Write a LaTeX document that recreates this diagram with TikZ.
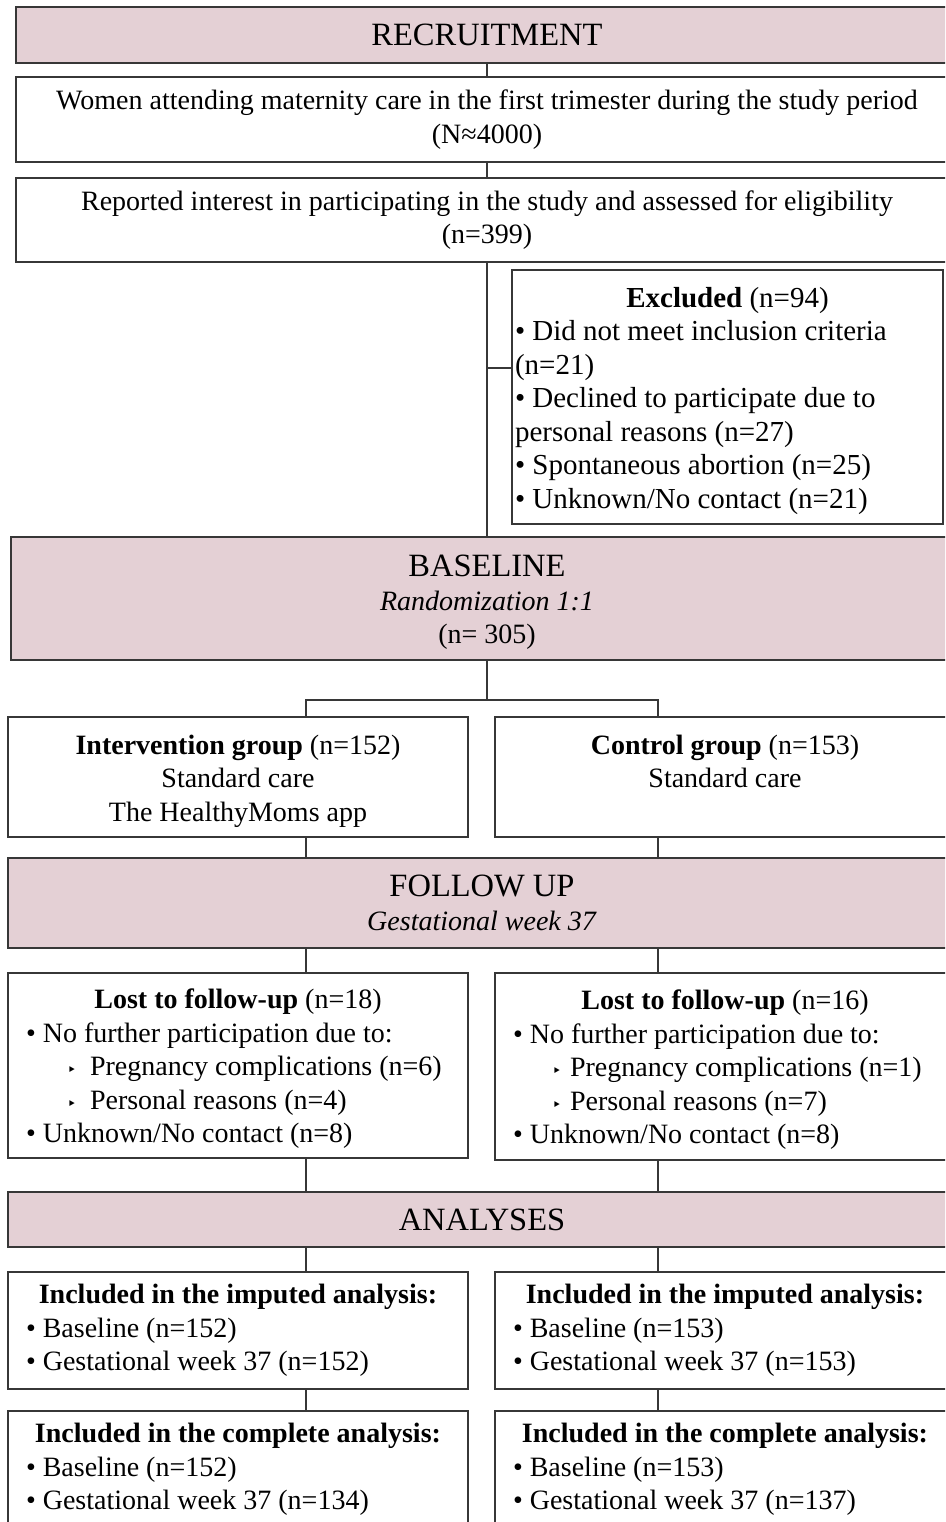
\documentclass[tikz,border=0pt]{standalone}
\usepackage{fontspec}
\setmainfont{Liberation Serif}
\newfontfamily\dejavu{DejaVu Sans}
\usetikzlibrary{positioning}

\definecolor{stagepink}{RGB}{228,208,213}
\definecolor{edgegray}{RGB}{55,55,55}
\newcommand{\tri}{{\dejavu\fontsize{16}{16}\selectfont ‣}}
\newcommand{\ctitle}[1]{\hspace*{\fill}#1\hspace*{\fill}\null}
\newcommand{\stagefont}{\fontsize{32.5}{33.5}\selectfont}

\begin{document}
\begin{tikzpicture}[
    font=\fontsize{28}{33.5}\selectfont,
    node distance=16pt,
    stage/.style={rectangle, draw=edgegray, line width=1.8pt, fill=stagepink, outer sep=0pt, inner sep=2pt, minimum width=942pt, align=center},
    infobox/.style={rectangle, draw=edgegray, line width=1.8pt, fill=white, outer sep=0pt, inner sep=2pt, minimum width=942pt, align=center},
    groupbox/.style={rectangle, draw=edgegray, line width=1.8pt, fill=white, outer sep=0pt, inner sep=2pt, minimum width=460pt, minimum height=120pt, align=center},
    listbox/.style={rectangle, draw=edgegray, line width=1.8pt, fill=white, outer sep=0pt, inner xsep=18pt, inner ysep=2pt, text width=424pt, align=flush left},
    link/.style={draw=edgegray, line width=1.3pt},
  ]
  \useasboundingbox (0pt,0pt) rectangle (945pt,-1522pt);
  \clip (0pt,0pt) rectangle (945pt,-1522pt);

  % recruitment
  \node[stage, minimum height=56pt, anchor=north west] (recruit) at (16pt,-7pt) {\stagefont RECRUITMENT};
  \node[infobox, minimum height=85pt, below=14pt of recruit] (women) {Women attending maternity care in the first trimester during the study period\\(N≈4000)};
  \node[infobox, minimum height=84pt, below=16pt of women] (report) {Reported interest in participating in the study and assessed for eligibility\\(n=399)};
  \node[listbox, font=\fontsize{29}{33.5}\selectfont, inner xsep=3pt, text width=425pt, minimum height=254pt, anchor=north west] (excl) at (512pt,-270pt) {\ctitle{\rule{0pt}{28pt}\textbf{Excluded} (n=94)}\\
    • Did not meet inclusion criteria\\
    (n=21)\\
    • Declined to participate due to\\
    personal reasons (n=27)\\
    • Spontaneous abortion (n=25)\\
    • Unknown/No contact (n=21)};

  % baseline
  \node[stage, minimum width=952pt, minimum height=123pt, anchor=north west] (base) at (11pt,-537pt) {\rule{0pt}{29.5pt}{\stagefont BASELINE}\\\textit{Randomization 1:1}\\(n= 305)};
  \node[groupbox, anchor=north west] (intv) at (8pt,-717pt) {\rule{0pt}{27.5pt}\textbf{Intervention group} (n=152)\\Standard care\\The HealthyMoms app};
  \node[groupbox, right=27pt of intv] (ctrl) {\rule{0pt}{27.5pt}\textbf{Control group} (n=153)\\Standard care\\\rule[-6pt]{0pt}{0pt}};

  % follow up
  \node[stage, minimum width=948pt, minimum height=90pt, anchor=north west] (follow) at (8pt,-858pt) {{\stagefont FOLLOW UP}\\\textit{Gestational week 37}};
  \node[listbox, minimum height=185pt, anchor=north west] (lost1) at (8pt,-973pt) {\ctitle{\rule{0pt}{26pt}\textbf{Lost to follow-up} (n=18)}\\
    • No further participation due to:\\
    \hspace*{41pt}\makebox[23pt][l]{\tri}Pregnancy complications (n=6)\\
    \hspace*{41pt}\makebox[23pt][l]{\tri}Personal reasons (n=4)\\
    • Unknown/No contact (n=8)};
  \node[listbox, minimum height=187pt, anchor=north west] (lost2) at (495pt,-973pt) {\ctitle{\rule{0pt}{26pt}\textbf{Lost to follow-up} (n=16)}\\
    • No further participation due to:\\
    \hspace*{39pt}\makebox[18pt][l]{\tri}Pregnancy complications (n=1)\\
    \hspace*{39pt}\makebox[18pt][l]{\tri}Personal reasons (n=7)\\
    • Unknown/No contact (n=8)};

  % analyses
  \node[stage, minimum width=948pt, minimum height=55pt, anchor=north west] (analy) at (8pt,-1192pt) {\stagefont ANALYSES};
  \node[listbox, minimum height=117pt, anchor=north west] (imp1) at (8pt,-1272pt) {\ctitle{\textbf{Included in the imputed analysis:}}\\
    • Baseline (n=152)\\
    • Gestational week 37 (n=152)};
  \node[listbox, minimum height=117pt, right=27pt of imp1] (imp2) {\ctitle{\textbf{Included in the imputed analysis:}}\\
    • Baseline (n=153)\\
    • Gestational week 37 (n=153)};
  \node[listbox, minimum height=117pt, below=22pt of imp1] (comp1) {\ctitle{\textbf{Included in the complete analysis:}}\\
    • Baseline (n=152)\\
    • Gestational week 37 (n=134)};
  \node[listbox, minimum height=117pt, below=22pt of imp2] (comp2) {\ctitle{\textbf{Included in the complete analysis:}}\\
    • Baseline (n=153)\\
    • Gestational week 37 (n=137)};

  % connectors
  \coordinate (lx) at (306pt,0pt);
  \coordinate (rx) at (658pt,0pt);
  \coordinate (exjoin) at (487pt,-368pt);
  \coordinate (split) at (487pt,-700pt);

  \draw[link] (recruit) -- (women);
  \draw[link] (women) -- (report);
  \draw[link] (report) -- (base);
  \draw[link] (exjoin) -- (exjoin -| excl.west);
  \draw[link] (base) -- (split);
  \draw[link] (intv.north -| lx) |- (split) -| (ctrl.north -| rx);
  \draw[link] (intv.south -| lx) -- (follow.north -| lx);
  \draw[link] (ctrl.south -| rx) -- (follow.north -| rx);
  \draw[link] (follow.south -| lx) -- (lost1.north -| lx);
  \draw[link] (follow.south -| rx) -- (lost2.north -| rx);
  \draw[link] (lost1.south -| lx) -- (analy.north -| lx);
  \draw[link] (lost2.south -| rx) -- (analy.north -| rx);
  \draw[link] (analy.south -| lx) -- (imp1.north -| lx);
  \draw[link] (analy.south -| rx) -- (imp2.north -| rx);
  \draw[link] (imp1.south -| lx) -- (comp1.north -| lx);
  \draw[link] (imp2.south -| rx) -- (comp2.north -| rx);
\end{tikzpicture}
\end{document}
